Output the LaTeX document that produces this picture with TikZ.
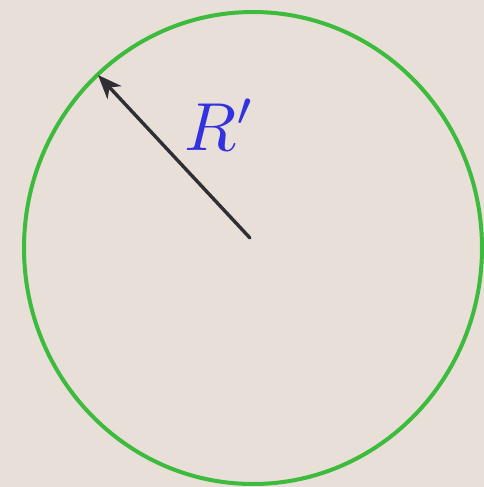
\documentclass[tikz,border=0pt]{standalone}
\usepackage{graphicx}
\usetikzlibrary{arrows.meta}
\definecolor{paper}{HTML}{E9DFD9}
\definecolor{ringgreen}{HTML}{3DBB3D}
\definecolor{arrowgray}{HTML}{2E2E33}
\definecolor{rblue}{HTML}{3232E0}

\begin{document}
\begin{tikzpicture}[
  x=1pt, y=-1pt,
  ring/.style={draw=ringgreen, line width=4pt},
  radius arrow/.style={-{Stealth[length=24pt,width=19pt,inset=7pt]}, line width=3.4pt, draw=arrowgray, line cap=round}
]

\fill[paper] (0,0) rectangle (484,487);

\coordinate (centre) at (250,238);
\coordinate (rim) at (98,75);
\draw[ring] (253,248) ellipse [x radius=229, y radius=236];

\draw[radius arrow] (centre) -- (rim);
\node[text=rblue] (label) at (220,125) {\scalebox{6.8}{$R'$}};

\end{tikzpicture}
\end{document}
